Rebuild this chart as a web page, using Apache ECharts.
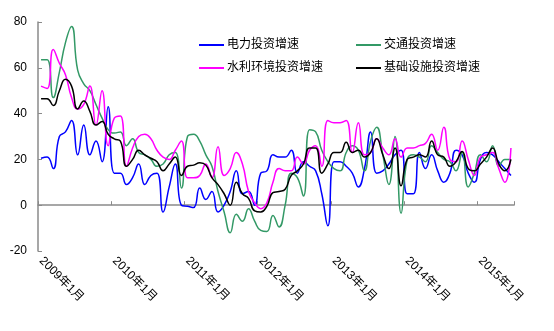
<!DOCTYPE html>
<html>
<head>
<meta charset="utf-8">
<script src="https://cdn.jsdelivr.net/npm/echarts@6/dist/echarts.min.js"></script>
<style>
html,body{margin:0;padding:0;background:#fff;}
#c{width:554px;height:331px;}
</style>
</head>
<body>
<div id="c"></div>
<script>
// Categories: monthly, 2009-01 .. 2015-06
var startYear = 2009;
var monthCount = 78;
var categories = [];
for (var k = 0; k < monthCount; k++) {
  var y = startYear + Math.floor(k / 12);
  var m = (k % 12) + 1;
  categories.push(y + '年' + m + '月');
}

var seriesNames = ['电力投资增速', '交通投资增速', '水利环境投资增速', '基础设施投资增速'];

var dianli = [20.5,21,16,30,32,37,22,35,22,28,19,43,14,14,9,12,18,9,13,14,
  -3,8,18,0,-0.5,-1,7.5,2.5,6,-3,0,6,15,5,6,0,14,15,22,21,
  21,24,14,19,17,15,5,-9,19,19,17,14,8,16,32,14,15,18,22,24,
  5,5,23,16,22,15,10,14,24,22,14,10,20,23,22,19,16,13];

var jiaotong = [63.5,63.5,47,58,71,78,59,53,50,44,38,33,31.5,32,26,29,23,22,20,17,
  18,22,23,7.5,30,31,28,22,17,6,-3,-12,-4,-7,-1.5,-7,-11,-11.5,-4.5,-9.5,
  0,14,12,4,33,32,24,19,16,15,23,26,24,15,28,34,22,9,30,-3.5,
  20,22,21,19,26,23,20,19,15,23,8,14,22,19,26,17,20,20];

var shuili = [52,51,68,62,57,47,42,44,52,35,50,26,38,39,17,25,30,31,29,24,
  21,20,24,28,12,12,13,18,12,25.5,13,16,23,18,6,1,-1.5,1,10,16,
  15,15,21,18,24,26,17,37,36,36,37,23,36,22,23,29,25,22,29,21,
  25,25,26,27,31,24,34,20,19,28,20,13,21,22,23,16,10,25];

var jichu = [46.5,46.5,43.5,50,55,52,42,45.5,41,35,36.5,31,29,28,17,20,24,22,20.5,19,
  15,18,21,13,17,17.5,18.5,17.5,12,9,5,0,10,5,3,-2.5,-3,-0.5,5.5,6,
  7,13,15,18,25,25,14,18,23,23,27.5,23,24,21,23,29,22,16,25,8.5,
  20,21,22,21,28,22,21,17,19,23.5,16,15,18,21,25,18,15,20];

var yTicks = {min: -20, max: 80, interval: 20};
var colors = ['#0000FF', '#339966', '#FF00FF', '#000000'];

var font = "'Liberation Sans', 'Noto Sans CJK SC', sans-serif";
var axisColor = '#8a8a8a';

function mkSeries(name, data, color) {
  return {
    name: name, type: 'line', data: data, smooth: 0.5,
    showSymbol: false, symbol: 'none',
    lineStyle: {color: color, width: 1.5},
    itemStyle: {color: color}
  };
}

var chart = echarts.init(document.getElementById('c'), null, {renderer: 'canvas'});
chart.setOption({
  animation: false,
  backgroundColor: '#fff',
  textStyle: {fontFamily: font},
  grid: {left: 38, top: 22, right: 40, bottom: 80, containLabel: false},
  legend: [
    {data: [seriesNames[0], seriesNames[2]], orient: 'vertical', left: 199, top: 38, padding: 0,
     icon: 'rect', itemWidth: 25, itemHeight: 2, itemGap: 9,
     textStyle: {fontSize: 12, color: '#000', fontFamily: font, lineHeight: 14, padding: [0, 0, 0, -2]}},
    {data: [seriesNames[1], seriesNames[3]], orient: 'vertical', left: 356, top: 38, padding: 0,
     icon: 'rect', itemWidth: 25, itemHeight: 2, itemGap: 9,
     textStyle: {fontSize: 12, color: '#000', fontFamily: font, lineHeight: 14, padding: [0, 0, 0, -2]}}
  ],
  xAxis: {
    type: 'category', data: categories, boundaryGap: true,
    axisLine: {lineStyle: {color: axisColor, width: 1.5}},
    axisTick: {show: true, interval: 11, inside: true, length: 4, lineStyle: {color: axisColor, width: 1}},
    axisLabel: {interval: 11, rotate: -45, fontSize: 12, color: '#000', margin: 8, fontFamily: font},
    splitLine: {show: false}
  },
  yAxis: {
    type: 'value', min: yTicks.min, max: yTicks.max, interval: yTicks.interval,
    axisLine: {show: true, lineStyle: {color: axisColor, width: 1.5}},
    axisTick: {show: true, inside: true, length: 4, lineStyle: {color: axisColor, width: 1}},
    axisLabel: {fontSize: 12, color: '#000', margin: 11, fontFamily: font},
    splitLine: {show: false}
  },
  series: [
    mkSeries(seriesNames[0], dianli, colors[0]),
    mkSeries(seriesNames[1], jiaotong, colors[1]),
    mkSeries(seriesNames[2], shuili, colors[2]),
    mkSeries(seriesNames[3], jichu, colors[3])
  ]
});
</script>
</body>
</html>
